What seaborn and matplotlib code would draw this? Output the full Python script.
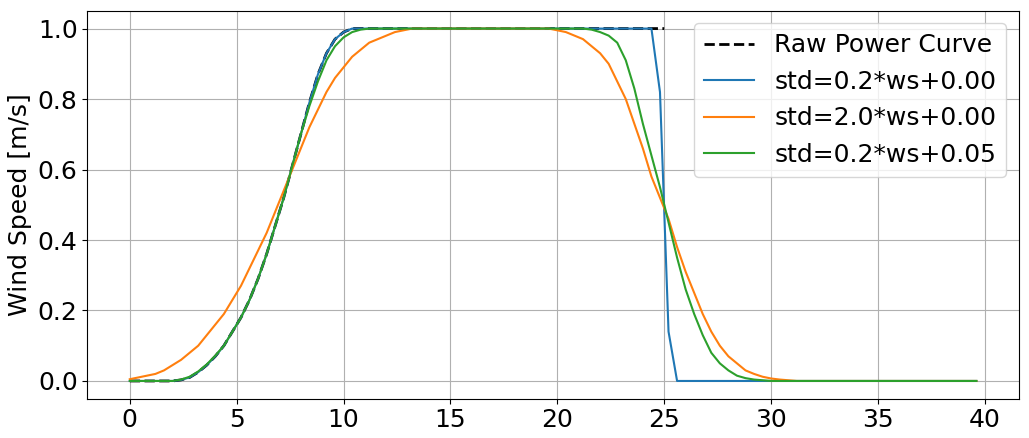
import numpy as np
import pandas as pd
import matplotlib
matplotlib.use("Agg")
import matplotlib.pyplot as plt
import seaborn as sns

ws = [round(0.4 * i, 1) for i in range(100)]

ramp = [0.0]*6 + [0.003, 0.01, 0.025, 0.045, 0.07, 0.10, 0.14, 0.18, 0.23, 0.29,
                  0.36, 0.44, 0.52, 0.61, 0.70, 0.79, 0.87, 0.93, 0.97, 0.99]
raw_ws = ws[:63] + [25.0]
raw_power = ramp + [1.0]*38

blue = ramp + [1.0]*36 + [0.82, 0.14] + [0.0]*36
green = ([0.0]*6 + [0.004, 0.012, 0.027, 0.047, 0.072, 0.10, 0.14, 0.18, 0.23, 0.29,
                    0.36, 0.44, 0.52, 0.61, 0.70, 0.78, 0.85, 0.91, 0.95, 0.975]
         + [0.99, 0.997] + [1.0]*26
         + [0.997, 0.99, 0.98, 0.96, 0.91, 0.83, 0.73, 0.64, 0.55, 0.45, 0.35, 0.26,
            0.19, 0.13, 0.08, 0.05, 0.03, 0.015, 0.008, 0.004, 0.002] + [0.0]*25)
orange = ([0.005, 0.01, 0.015, 0.02, 0.03, 0.045, 0.06, 0.08, 0.10, 0.13, 0.16, 0.19,
           0.23, 0.27, 0.32, 0.37, 0.42, 0.48, 0.54, 0.60, 0.66, 0.72, 0.77, 0.82, 0.86,
           0.89, 0.92, 0.94, 0.96, 0.97, 0.98, 0.99, 0.995] + [1.0]*17
          + [0.995, 0.99, 0.98, 0.97, 0.95, 0.93, 0.90, 0.85, 0.80, 0.73, 0.66, 0.58,
             0.52, 0.46, 0.38, 0.31, 0.25, 0.19, 0.14, 0.10, 0.07, 0.05, 0.03, 0.02,
             0.012, 0.007, 0.004, 0.002] + [0.0]*22)

labels = ["std=0.2*ws+0.00", "std=2.0*ws+0.00", "std=0.2*ws+0.05"]
colors = ["#1f77b4", "#ff7f0e", "#2ca02c"]

plt.rcParams['font.size'] = 18
fig, ax = plt.subplots(figsize=(10.29, 4.38), dpi=100)
sns.lineplot(x=raw_ws, y=raw_power, ax=ax, color="black", linestyle="--", linewidth=2,
             label="Raw Power Curve")
for ys, lab, c in zip([blue, orange, green], labels, colors):
    sns.lineplot(x=ws, y=ys, ax=ax, color=c, label=lab, linewidth=1.5)
ax.grid(True)
ax.set_ylabel("Wind Speed [m/s]")
ax.set_xticks([0, 5, 10, 15, 20, 25, 30, 35, 40])
ax.set_yticks([0.0, 0.2, 0.4, 0.6, 0.8, 1.0])
ax.set_ylim(-0.05, 1.05)
ax.legend(loc="upper right")
fig.subplots_adjust(left=0.085, right=0.99, top=0.975, bottom=0.09)
fig.savefig("out.png", dpi=100)
